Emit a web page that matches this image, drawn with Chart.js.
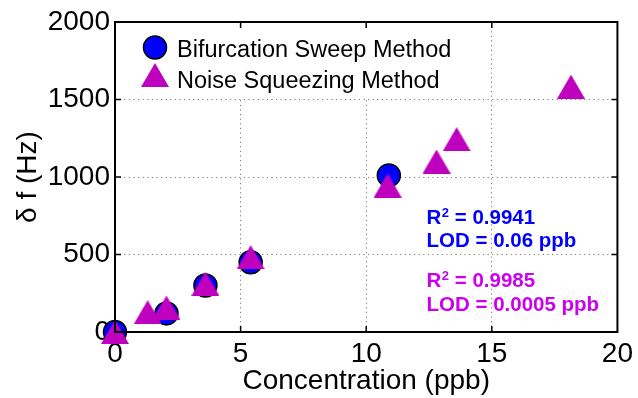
<!DOCTYPE html>
<html>
<head>
<meta charset="utf-8">
<script src="https://cdn.jsdelivr.net/npm/chart.js@4.4.0/dist/chart.umd.min.js"></script>
<style>
  html, body { margin: 0; padding: 0; background: #ffffff; }
  #chart { display: block; }
</style>
</head>
<body>
<canvas id="chart" width="638" height="398"></canvas>
<script>
// --- Data ---
const bifConc = [0, 2.05, 3.6, 5.4, 10.9];
const bifShift = [0, 120, 300, 450, 1010];
const noiseConc = [0, 1.3, 2.05, 3.6, 5.4, 10.85, 12.8, 13.6, 18.15];
const noiseShift = [0, 128, 158, 311, 483, 945, 1100, 1244, 1583];
const xTicks = [0, 5, 10, 15, 20];
const yTicks = [0, 500, 1000, 1500, 2000];
const seriesNames = ['Bifurcation Sweep Method', 'Noise Squeezing Method'];
const fitR2 = [' = 0.9941', ' = 0.9985'];
const fitLOD = ['LOD = 0.06 ppb', 'LOD = 0.0005 ppb'];

document.addEventListener('DOMContentLoaded', function () {
    const FONT = "'Liberation Sans', Arial, Helvetica, sans-serif";
    const BLUE = '#0000ff';
    const MAGENTA = '#bf00bf';
    const TEXT_MAGENTA = '#cc00ee';

    // Triangle marker as a small canvas so it is centred on its bounding box (like MATLAB '^')
    function makeTriangle(w, h, color) {
        const c = document.createElement('canvas');
        c.width = w;
        c.height = h;
        const g = c.getContext('2d');
        g.fillStyle = color;
        g.beginPath();
        g.moveTo(w / 2, 0);
        g.lineTo(w, h);
        g.lineTo(0, h);
        g.closePath();
        g.fill();
        return c;
    }
    const triangle = makeTriangle(28, 24, MAGENTA);

    function toPoints(xs, ys) {
        return xs.map(function (x, i) { return { x: x, y: ys[i] }; });
    }

    // "R" + superscript 2 + rest of the line
    function drawR2(ctx, rest, x, y) {
        ctx.font = 'bold 20.5px ' + FONT;
        ctx.fillText('R', x, y);
        let cx = x + ctx.measureText('R').width;
        ctx.font = 'bold 13px ' + FONT;
        ctx.fillText('2', cx + 0.5, y - 7);
        cx += ctx.measureText('2').width + 0.5;
        ctx.font = 'bold 20.5px ' + FONT;
        ctx.fillText(rest, cx, y);
    }

    // Legend, frame, inward ticks and fit labels
    const decorations = {
        id: 'decorations',
        beforeDatasetsDraw: function (chart) {
            const ctx = chart.ctx;
            const area = chart.chartArea;
            // white legend background hides the grid behind it
            ctx.save();
            ctx.fillStyle = '#ffffff';
            ctx.fillRect(area.left + 2, area.top + 2, 358, 74);
            ctx.restore();
        },
        afterDatasetsDraw: function (chart) {
            const ctx = chart.ctx;
            const area = chart.chartArea;
            const xs = chart.scales.x;
            const ys = chart.scales.y;

            ctx.save();
            // axes box
            ctx.strokeStyle = '#000000';
            ctx.lineWidth = 2;
            ctx.strokeRect(area.left, area.top, area.right - area.left, area.bottom - area.top);

            // inward tick marks
            const tl = 6;
            ctx.lineWidth = 1.5;
            ctx.beginPath();
            xTicks.slice(1, -1).forEach(function (v) {
                const px = xs.getPixelForValue(v);
                ctx.moveTo(px, area.bottom); ctx.lineTo(px, area.bottom - tl);
                ctx.moveTo(px, area.top); ctx.lineTo(px, area.top + tl);
            });
            yTicks.slice(1, -1).forEach(function (v) {
                const py = ys.getPixelForValue(v);
                ctx.moveTo(area.left, py); ctx.lineTo(area.left + tl, py);
                ctx.moveTo(area.right, py); ctx.lineTo(area.right - tl, py);
            });
            ctx.stroke();

            // legend
            const lx = area.left + 40;
            ctx.beginPath();
            ctx.arc(lx, area.top + 25.5, 11.5, 0, Math.PI * 2);
            ctx.fillStyle = BLUE;
            ctx.fill();
            ctx.lineWidth = 1.5;
            ctx.strokeStyle = '#000000';
            ctx.stroke();
            ctx.drawImage(triangle, lx - 14, area.top + 41);

            ctx.fillStyle = '#000000';
            ctx.font = '23.5px ' + FONT;
            ctx.textAlign = 'left';
            ctx.textBaseline = 'alphabetic';
            ctx.fillText(seriesNames[0], area.left + 62, area.top + 34.7);
            ctx.fillText(seriesNames[1], area.left + 62, area.top + 66.3);

            // fit results
            const tx = xs.getPixelForValue(12.4);
            ctx.fillStyle = BLUE;
            drawR2(ctx, fitR2[0], tx, ys.getPixelForValue(698));
            ctx.fillText(fitLOD[0], tx, ys.getPixelForValue(547));
            ctx.fillStyle = TEXT_MAGENTA;
            drawR2(ctx, fitR2[1], tx, ys.getPixelForValue(289));
            ctx.fillText(fitLOD[1], tx, ys.getPixelForValue(134));
            ctx.restore();
        }
    };

    // grid only on interior ticks, dotted like MATLAB
    function gridColor(ctx) {
        const v = ctx.tick ? ctx.tick.value : null;
        const s = ctx.scale;
        if (v === s.min || v === s.max) return 'rgba(0,0,0,0)';
        return '#7a7a7a';
    }

    function plainLabel(value) {
        return String(value);
    }

    const ctx = document.getElementById('chart').getContext('2d');
    new Chart(ctx, {
        type: 'scatter',
        data: {
            datasets: [{
                label: seriesNames[0],
                data: toPoints(bifConc, bifShift),
                pointStyle: 'circle',
                pointRadius: 11.5,
                pointHoverRadius: 11.5,
                backgroundColor: BLUE,
                borderColor: '#000000',
                borderWidth: 1.5,
                order: 2,
                clip: false
            }, {
                label: seriesNames[1],
                data: toPoints(noiseConc, noiseShift),
                pointStyle: triangle,
                pointRadius: 14,
                backgroundColor: MAGENTA,
                borderColor: MAGENTA,
                order: 1,
                clip: false
            }]
        },
        options: {
            responsive: false,
            animation: false,
            devicePixelRatio: 1,
            layout: { padding: { top: 22, right: 18, left: 0, bottom: 0 } },
            plugins: {
                legend: { display: false },
                tooltip: { enabled: false }
            },
            scales: {
                x: {
                    type: 'linear',
                    min: xTicks[0],
                    max: xTicks[xTicks.length - 1],
                    afterBuildTicks: function (scale) {
                        scale.ticks = xTicks.map(function (v) { return { value: v }; });
                    },
                    afterFit: function (scale) { scale.height = 66; },
                    ticks: {
                        font: { family: FONT, size: 28 },
                        color: '#000000',
                        padding: 5,
                        maxRotation: 0,
                        callback: plainLabel
                    },
                    grid: { color: gridColor, lineWidth: 1, drawTicks: false },
                    border: { display: false, dash: [1.2, 3.4] },
                    title: {
                        display: true,
                        text: 'Concentration (ppb)',
                        font: { family: FONT, size: 28 },
                        color: '#000000',
                        padding: { top: 2, bottom: 0 }
                    }
                },
                y: {
                    type: 'linear',
                    min: yTicks[0],
                    max: yTicks[yTicks.length - 1],
                    afterBuildTicks: function (scale) {
                        scale.ticks = yTicks.map(function (v) { return { value: v }; });
                    },
                    afterFit: function (scale) { scale.width = 115; },
                    ticks: {
                        font: { family: FONT, size: 28 },
                        color: '#000000',
                        padding: 5,
                        callback: plainLabel
                    },
                    grid: { color: gridColor, lineWidth: 1, drawTicks: false },
                    border: { display: false, dash: [1.2, 3.4] },
                    title: {
                        display: true,
                        text: '\u03B4 f (Hz)',
                        font: { family: FONT, size: 28 },
                        color: '#000000',
                        padding: { top: 11, bottom: 0 }
                    }
                }
            }
        },
        plugins: [decorations]
    });
});
</script>
</body>
</html>
